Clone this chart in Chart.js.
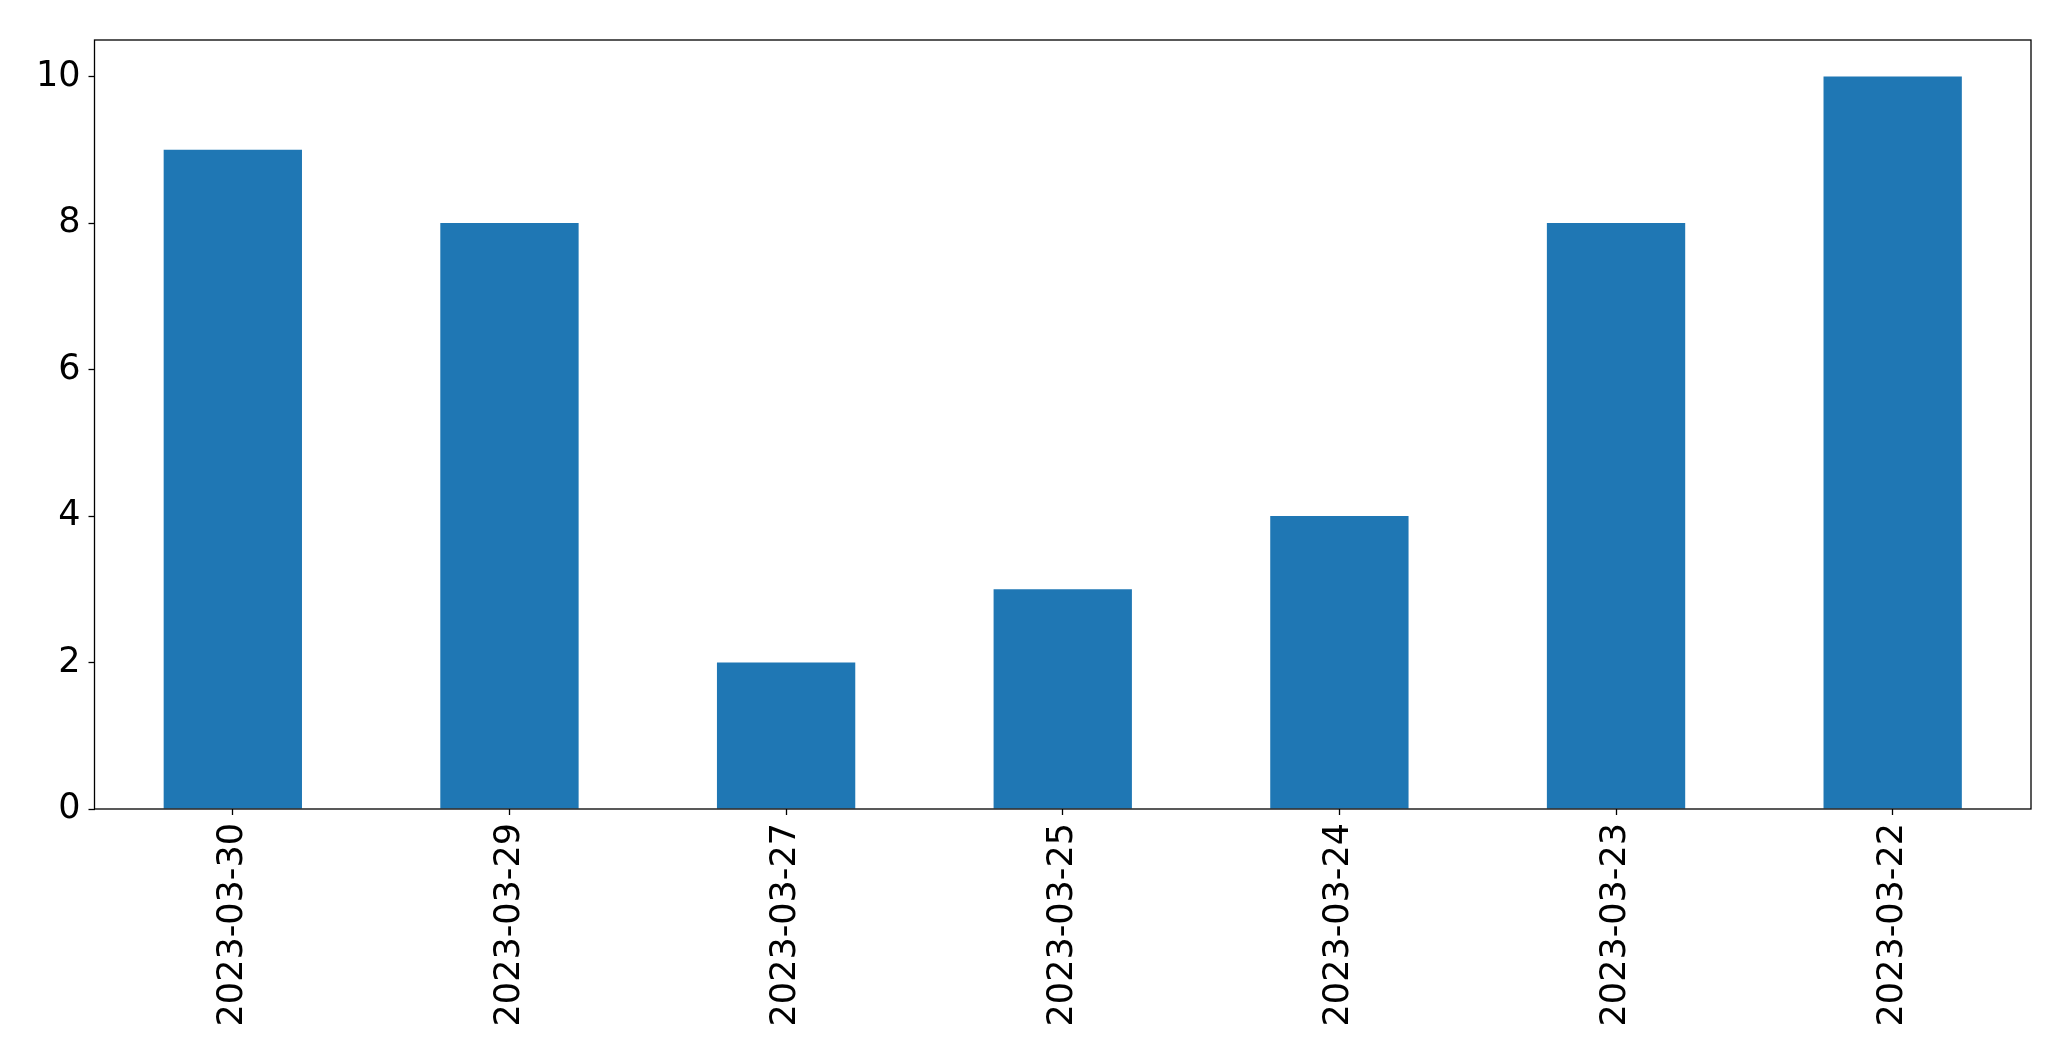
<!DOCTYPE html>
<html>
<head>
<meta charset="utf-8">
<script src="https://cdn.jsdelivr.net/npm/chart.js@4.4.1/dist/chart.umd.min.js"></script>
<style>
  html, body { margin: 0; padding: 0; background: #fff; }
  #wrap { width: 2071px; height: 1061px; position: relative; }
</style>
</head>
<body>
<div id="wrap"><canvas id="chart"></canvas></div>
<script>
// data
const dates = ['2023-03-30', '2023-03-29', '2023-03-27', '2023-03-25', '2023-03-24', '2023-03-23', '2023-03-22'];
const counts = [9, 8, 2, 3, 4, 8, 10];
const yTicks = [0, 2, 4, 6, 8, 10];

const fontSpec = { family: 'DejaVu Sans', size: 35 };

// frame around the plot area (matplotlib style box)
const frame = {
  id: 'frame',
  afterDraw(chart) {
    const { ctx, chartArea: a } = chart;
    ctx.save();
    ctx.strokeStyle = '#000';
    ctx.lineWidth = 1.3;
    ctx.strokeRect(a.left, a.top, a.right - a.left, a.bottom - a.top);
    ctx.restore();
  }
};

new Chart(document.getElementById('chart'), {
  type: 'bar',
  data: {
    labels: dates,
    datasets: [{
      data: counts,
      backgroundColor: '#1f77b4',
      borderWidth: 0,
      barPercentage: 0.5,
      categoryPercentage: 1.0
    }]
  },
  options: {
    responsive: true,
    maintainAspectRatio: false,
    animation: false,
    layout: { padding: { top: 40, right: 40, left: 0, bottom: 0 } },
    plugins: { legend: { display: false }, tooltip: { enabled: false } },
    scales: {
      x: {
        offset: true,
        grid: { offset: false, drawOnChartArea: false, drawTicks: true, tickLength: 6, tickColor: '#000', tickWidth: 1.3 },
        border: { display: false },
        ticks: { color: '#000', font: fontSpec, minRotation: 90, maxRotation: 90, padding: 8, autoSkip: false },
        afterFit(scale) { scale.height = 1061 - 809; }
      },
      y: {
        min: 0,
        max: 10.5,
        grid: { drawOnChartArea: false, drawTicks: true, tickLength: 6, tickColor: '#000', tickWidth: 1.3 },
        border: { display: false },
        ticks: { color: '#000', font: fontSpec, stepSize: 2, padding: 8 },
        afterBuildTicks(scale) {
          scale.ticks = yTicks.map(v => ({ value: v }));
        },
        afterFit(scale) { scale.width = 94.5; }
      }
    }
  },
  plugins: [frame]
});
</script>
</body>
</html>
